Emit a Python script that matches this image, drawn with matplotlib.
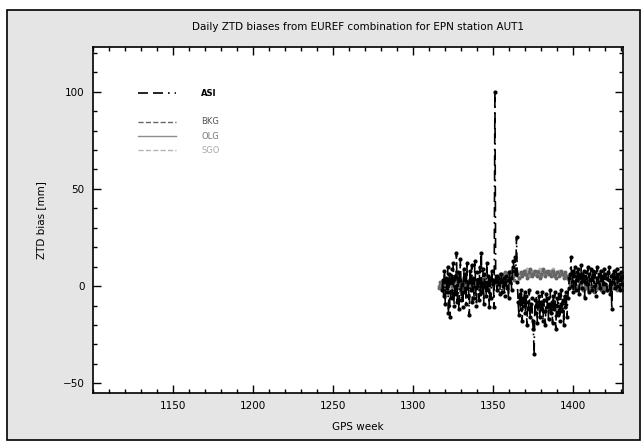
import numpy as np
import matplotlib
matplotlib.use('Agg')
import matplotlib.pyplot as plt
from matplotlib.lines import Line2D
from matplotlib.patches import Rectangle
from matplotlib.ticker import MultipleLocator

# ASI: half-weekly biases [mm], starting at GPS week 1318
asi_start = 1318
asi_bias = [
    -2, 3, -5, 8, -9, 4, -3, 10, -14, 6,
    -16, 2, 9, -6, 12, -10, 5, -4, 17, -8,
    7, -12, 3, 14, -7, 1, -11, 9, -3, 6,
    -9, 12, -5, 2, -15, 8, -2, 11, -8, 4,
    -6, 13, -1, -10, 7, 3, -7, 10, -4, 17,
    -3, 9, -9, 6, 2, -5, 12, -2, 5, -11,
    4, -6, 8, 1, 3, -11,
    100, 2, 5, -2, 4, 1, -4, 3, 6, -3,
    0, 4, -5, 2, 5, -1, 3, -6, 7, 2,
    4, -2, 10, 13, 8, 15, 6, 25,
    2, -8, -15, -4, -12, -2, -18, -6, -10, -3,
    -14, -5, -20, -8, -12, -2, -16, -9, -6, -18,
    -22, -35, -7, -14, -3, -19, -10, -5, -16, -8,
    -12, -3, -18, -7, -13, -20, -4, -11, -6, -17,
    -9, -2, -14, -8, -19, -5, -12, -3, -22, -10,
    -6, -15, -4, -18, -9, -2, -13, -7, -20, -5,
    -11, -3, -16, -6, -1, 4,
    6, 15, 0, 8, -3, 5, 10, -2, 7, 3,
    9, -4, 6, 2, 11, -1, 5, 8, -6, 4,
    7, 1, 10, -3, 6, 3, 9, -2, 5, 8,
    0, 7, -5, 4, 10, 2, 6, -1, 8, 3,
    5, -3, 9, 1, 6, 4, -2, 7, 3, 10,
    -4, 5, -12, 6, 2, 8, -1, 4, 9, 0,
    6, 3, -2, 7, 4, 1, 5,
]

# BKG: weekly, from week 1316
bkg_start = 1316
bkg_bias = [
    -1, 2, 0, -3, 3, 1, -2, 4, 0, 2,
    -1, 3, 1, -2, 2, 0, 4, -1, 1, 3,
    0, -2, 2, 1, 3, -1, 2, 0, 4, 1,
    2, -1, 3, 1, 0, 3, 4, 2, 6, 3,
    5, 7, 3, 6, 4, 8, 5, 3, 7, 6,
    4, 7, 5, 8, 6, 4, 7, 9, 5, 6,
    8, 5, 7, 4, 6, 9, 5, 7, 8, 6,
    5, 8, 6, 4, 7, 5, 8, 6, 4, 7,
    5, 3, 1, 0, -1, 1, -2, 0, -1, 1,
    -2, 0, -1, 1, -2, 0, -1, -3, 0, -1,
    1, -2, 0, -1, 1, -2, 0, -1, 2, -1,
    0, -2, 1, -1, 0, -2,
]

# OLG: every second week, from week 1316
olg_start = 1316
olg_bias = [
    0, 1, -1, 2, 0, 1, 2, -1, 1, 0,
    1, 2, 0, 1, -1, 2, 1, 3, 2, 4,
    5, 4, 6, 5, 7, 4, 6, 8, 5, 7,
    6, 8, 5, 7, 6, 8, 5, 7, 6, 5,
    4, 1, 0, -1, 0, -2, -1, 0, -1, -2,
    0, -1, -2, 0, -1, 1, -1, 0,
]

# SGO: every second week, from week 1317
sgo_start = 1317
sgo_bias = [
    1, 0, 2, -1, 1, 3, 0, 2, 1, -1,
    2, 0, 3, 1, 2, 0, 2, 4, 3, 5,
    6, 5, 7, 6, 8, 5, 7, 9, 6, 8,
    7, 9, 6, 8, 7, 9, 6, 8, 7, 6,
    5, 2, 1, 0, 1, -1, 0, 1, 0, -1,
    1, 0, -1, 1, 0, 2, 0, 1,
]

x_ticks = [1150, 1200, 1250, 1300, 1350, 1400]

asi_weeks = asi_start + 0.5 * np.arange(len(asi_bias))
bkg_weeks = bkg_start + np.arange(len(bkg_bias))
olg_weeks = olg_start + 2 * np.arange(len(olg_bias))
sgo_weeks = sgo_start + 2 * np.arange(len(sgo_bias))

asi_dash = (6, 3, 6, 3, 1, 3)

fig = plt.figure(figsize=(6.42, 4.44), dpi=100)
fig.patch.set_facecolor('white')
fig.patches.append(Rectangle((7 / 642, 4 / 444), 633 / 642, 430 / 444,
                             transform=fig.transFigure, facecolor='#e5e5e5',
                             edgecolor='black', linewidth=1.2, zorder=-10))

ax = fig.add_axes([93 / 642, 1 - 393 / 444, 530 / 642, 346 / 444])
ax.set_facecolor('white')

ax.plot(sgo_weeks, sgo_bias, color='#b4b4b4', ls='--', lw=1.0, marker='o', ms=1.8)
ax.plot(olg_weeks, olg_bias, color='#8c8c8c', ls='-', lw=1.0, marker='o', ms=1.8)
ax.plot(bkg_weeks, bkg_bias, color='#666666', ls='--', lw=1.0, marker='o', ms=1.8)
ax.plot(asi_weeks, asi_bias, color='black', lw=1.2, dashes=asi_dash,
        marker='o', ms=2.0)

ax.set_xlim(1100, 1431)
ax.set_ylim(-55, 123)
ax.set_xticks(x_ticks)
ax.xaxis.set_minor_locator(MultipleLocator(10))
ax.yaxis.set_major_locator(MultipleLocator(50))
ax.yaxis.set_minor_locator(MultipleLocator(10))
ax.tick_params(which='both', direction='in', top=True, right=True,
               labelsize=7.5, width=1.0, pad=6)
ax.tick_params(which='major', length=6)
ax.tick_params(which='minor', length=3)
for s in ax.spines.values():
    s.set_linewidth(1.2)

ax.set_title('Daily ZTD biases from EUREF combination for EPN station AUT1',
             fontsize=7.5, pad=12)
ax.set_xlabel('GPS week', fontsize=7.5, labelpad=8)
ax.set_ylabel('ZTD bias [mm]', fontsize=7.5, labelpad=12)

handles = [
    Line2D([], [], color='black', lw=1.2, dashes=asi_dash),
    Line2D([], [], ls='none'),
    Line2D([], [], color='#666666', lw=1.0, ls='--'),
    Line2D([], [], color='#8c8c8c', lw=1.0, ls='-'),
    Line2D([], [], color='#b4b4b4', lw=1.0, ls='--'),
]
labels = ['ASI', ' ', 'BKG', 'OLG', 'SGO']
leg = ax.legend(handles, labels, loc='upper left', bbox_to_anchor=(0.078, 0.888),
                frameon=False, fontsize=6, handlelength=4.6, handletextpad=3.0,
                labelspacing=0.62, borderaxespad=0)
for t, c in zip(leg.get_texts(), ['black', 'black', '#555555', '#777777', '#aaaaaa']):
    t.set_color(c)
leg.get_texts()[0].set_fontweight('bold')

fig.savefig('out.png', dpi=100)
